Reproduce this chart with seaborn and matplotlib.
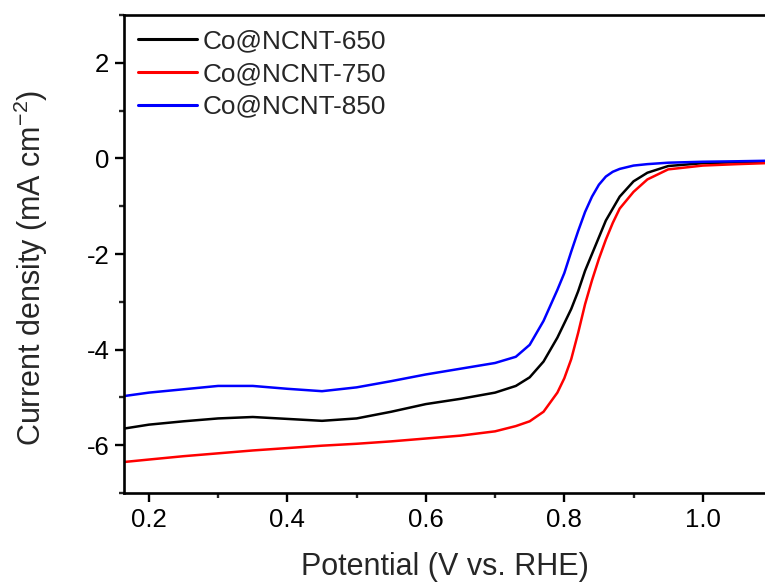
import numpy as np
import pandas as pd
import matplotlib
matplotlib.use("Agg")
import matplotlib.pyplot as plt
import seaborn as sns
from matplotlib.ticker import MultipleLocator

potential = [0.165, 0.20, 0.25, 0.30, 0.35, 0.40, 0.45, 0.50, 0.55, 0.60, 0.65, 0.70,
             0.73, 0.75, 0.77, 0.79, 0.80, 0.81, 0.82, 0.83, 0.84, 0.85, 0.86, 0.87,
             0.88, 0.90, 0.92, 0.95, 1.00, 1.05, 1.09]

co650 = [-5.65, -5.57, -5.50, -5.44, -5.41, -5.45, -5.49, -5.44, -5.30, -5.14, -5.03, -4.90,
         -4.76, -4.58, -4.25, -3.75, -3.45, -3.15, -2.78, -2.35, -2.00, -1.65, -1.30, -1.05,
         -0.80, -0.48, -0.30, -0.16, -0.10, -0.08, -0.07]

co750 = [-6.35, -6.30, -6.23, -6.17, -6.11, -6.06, -6.01, -5.97, -5.92, -5.86, -5.80, -5.71,
         -5.60, -5.50, -5.30, -4.90, -4.60, -4.20, -3.65, -3.05, -2.55, -2.10, -1.70, -1.35,
         -1.05, -0.70, -0.44, -0.23, -0.15, -0.12, -0.10]

co850 = [-4.97, -4.90, -4.83, -4.76, -4.76, -4.82, -4.87, -4.79, -4.66, -4.52, -4.40, -4.28,
         -4.15, -3.90, -3.40, -2.75, -2.40, -1.95, -1.52, -1.12, -0.80, -0.55, -0.38, -0.28,
         -0.22, -0.15, -0.12, -0.09, -0.07, -0.06, -0.05]

labels = ["Co@NCNT-650", "Co@NCNT-750", "Co@NCNT-850"]
colors = ["#000000", "#ff0000", "#0000ff"]

xticks = [0.2, 0.4, 0.6, 0.8, 1.0]
yticks = [-6, -4, -2, 0, 2]

frames = []
for lab, vals in zip(labels, [co650, co750, co850]):
    frames.append(pd.DataFrame({"Potential": potential, "Current": vals, "Sample": lab}))
df = pd.concat(frames, ignore_index=True)

sns.set_style("ticks")
plt.rcParams["font.family"] = ["Liberation Sans", "DejaVu Sans"]
plt.rcParams["mathtext.fontset"] = "custom"
plt.rcParams["mathtext.rm"] = "Liberation Sans"

fig = plt.figure(figsize=(7.65, 5.84), dpi=100)
ax = fig.add_axes([124 / 765, 1 - 493 / 584, 1 - 124 / 765, (493 - 15) / 584])

sns.lineplot(data=df, x="Potential", y="Current", hue="Sample", palette=colors,
             linewidth=1.8, ax=ax, sort=False, estimator=None)

ax.set_xlim(0.164, 1.0899)
ax.set_ylim(-7, 3)
ax.set_xticks(xticks)
ax.set_xticklabels([f"{t:.1f}" for t in xticks])
ax.set_yticks(yticks)
ax.set_yticklabels([str(t) for t in yticks])
ax.xaxis.set_minor_locator(MultipleLocator(0.1))
ax.yaxis.set_minor_locator(MultipleLocator(1))

for s in ["left", "bottom", "top"]:
    ax.spines[s].set_linewidth(1.9)
    ax.spines[s].set_color("black")
ax.spines["right"].set_visible(False)

ax.tick_params(axis="both", which="major", direction="out", length=6.5, width=1.7,
               labelsize=18.5, pad=4, colors="black")
ax.tick_params(axis="both", which="minor", direction="out", length=3.8, width=1.7)
ax.tick_params(top=False, right=False, which="both")

ax.set_xlabel("Potential (V vs. RHE)", fontsize=22)
ax.set_ylabel("Current density (mA cm$^{-2}$)", fontsize=22)
ax.xaxis.set_label_coords(0.5, -0.124)
ax.yaxis.set_label_coords(-0.115, 0.47)

leg = ax.legend(loc="upper left", bbox_to_anchor=(14 / 641, 1 - 14 / 478), frameon=False,
                fontsize=18.8, handlelength=2.26, handletextpad=0.23, labelspacing=0.34,
                borderpad=0, borderaxespad=0, title=None)
for line in leg.get_lines():
    line.set_linewidth(2.2)

fig.savefig("out.png", dpi=100)
